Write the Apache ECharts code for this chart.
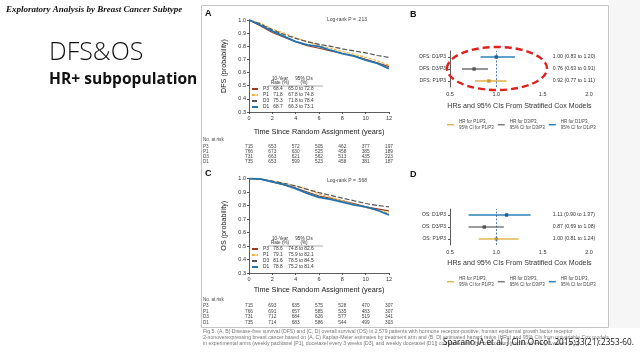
<!DOCTYPE html>
<html><head><meta charset="utf-8">
<script src="https://cdn.jsdelivr.net/npm/echarts@6/dist/echarts.min.js"></script>
<style>html,body{margin:0;padding:0;background:#fff}#c{width:640px;height:360px}</style>
</head><body><div id="c"></div>
<script>
// ---------- data ----------
const years = [0,1,2,3,4,5,6,7,8,9,10,11,12];
const arms = ['P3','P1','D3','D1'];
const dfsP3 = [1.0,0.955,0.905,0.87,0.835,0.805,0.785,0.765,0.745,0.728,0.700,0.675,0.645];
const dfsP1 = [1.0,0.975,0.930,0.90,0.865,0.835,0.810,0.785,0.760,0.740,0.715,0.690,0.655];
const dfsD3 = [1.0,0.970,0.925,0.89,0.860,0.835,0.815,0.800,0.780,0.765,0.750,0.730,0.715];
const dfsD1 = [1.0,0.960,0.915,0.875,0.835,0.810,0.800,0.770,0.745,0.725,0.695,0.670,0.630];
const osP3 = [1.0,0.995,0.975,0.955,0.930,0.900,0.870,0.855,0.835,0.815,0.790,0.775,0.760];
const osP1 = [1.0,0.997,0.980,0.965,0.945,0.920,0.885,0.860,0.835,0.810,0.785,0.765,0.745];
const osD3 = [1.0,0.997,0.980,0.965,0.945,0.920,0.895,0.875,0.855,0.835,0.815,0.800,0.790];
const osD1 = [1.0,0.995,0.975,0.955,0.925,0.890,0.860,0.845,0.825,0.805,0.790,0.765,0.730];
const riskTicks = [0,2,4,6,8,10,12];
const dfsRiskP3 = [715,653,572,505,462,377,197];
const dfsRiskP1 = [766,673,630,525,458,385,189];
const dfsRiskD3 = [731,663,621,562,513,435,223];
const dfsRiskD1 = [735,653,599,523,458,381,187];
const osRiskP3 = [715,693,635,575,528,470,307];
const osRiskP1 = [766,691,657,585,535,483,307];
const osRiskD3 = [731,712,684,626,577,519,341];
const osRiskD1 = [735,714,683,586,544,499,303];
const dfsRate = ['68.4','71.8','75.3','68.7'];
const dfsCI = ['65.0 to 72.8','67.8 to 74.8','71.8 to 78.4','66.3 to 73.1'];
const osRate = ['78.6','79.1','81.6','78.8'];
const osCI = ['74.8 to 82.6','75.9 to 82.1','78.5 to 84.5','75.2 to 81.4'];
const forestCats = ['P1/P3','D3/P3','D1/P3'];
const forestNames = ['HR for P1/P3,\n95% CI for P1/P3','HR for D3/P3,\n95% CI for D3/P3','HR for D1/P3,\n95% CI for D1/P3'];
const dfsHR = [0.92,0.76,1.00];
const dfsLo = [0.77,0.63,0.83];
const dfsHi = [1.11,0.91,1.20];
const dfsHRText = ['0.92 (0.77 to 1.11)','0.76 (0.63 to 0.91)','1.00 (0.83 to 1.20)'];
const osHR = [1.00,0.87,1.11];
const osLo = [0.81,0.70,0.70];
const osHi = [1.24,1.08,1.37];
const osHRText = ['1.00 (0.81 to 1.24)','0.87 (0.69 to 1.08)','1.11 (0.90 to 1.37)'];

// ---------- styles ----------
const NARROW = "'Liberation Sans',Arial,sans-serif";
const SANS = "'Liberation Sans',Arial,sans-serif";
const armColor = {P3:'#9c3b25',P1:'#f0b23a',D3:'#555555',D1:'#2374ad'};
const armDash = {P3:'solid',P1:[3,1.5],D3:[5,2],D1:'solid'};
const armWidth = {P3:1.2,P1:1.2,D3:1.2,D1:1.8};
const forestColor = ['#e3b655','#7a7a7a','#2a82b8'];
const forestMark = ['#c99a35','#555555','#1d5f95'];

const chart = echarts.init(document.getElementById('c'), null, {renderer:'canvas'});

const grids = [
  {left:249, top:20, width:140, height:92},
  {left:249, top:178.5, width:140, height:94.5},
  {left:450, top:51, width:139, height:36},
  {left:450, top:209, width:139, height:36}
];

const axisLineStyle = {color:'#333', width:0.8};
const xAxes = [], yAxes = [], series = [];

function kmAxes(gi, yName, riskRows, riskOffsets, xGap){
  xAxes.push({gridIndex:gi, type:'value', min:0, max:12, interval:2,
    axisLine:{lineStyle:axisLineStyle}, axisTick:{length:2, lineStyle:axisLineStyle},
    splitLine:{show:false},
    axisLabel:{fontSize:5.5, color:'#333', margin:3, fontFamily:SANS},
    name:'Time Since Random Assignment (years)', nameLocation:'middle', nameGap:xGap,
    nameTextStyle:{fontSize:7.3, color:'#222', fontFamily:NARROW}});
  riskRows.forEach((row, k) => {
    xAxes.push({gridIndex:gi, type:'value', min:0, max:12, interval:2, position:'bottom',
      offset:riskOffsets[k], axisLine:{show:false}, axisTick:{show:false}, splitLine:{show:false},
      axisLabel:{fontSize:4.8, color:'#444', margin:0, verticalAlign:'middle', fontFamily:SANS,
        formatter: v => { const i = riskTicks.indexOf(v); return i >= 0 ? String(row[i]) : ''; }}});
  });
  yAxes.push({gridIndex:gi, type:'value', min:0.3, max:1.0, interval:0.1,
    axisLine:{show:true, lineStyle:axisLineStyle}, axisTick:{show:true, length:2, lineStyle:axisLineStyle},
    splitLine:{show:false},
    axisLabel:{fontSize:5.5, color:'#333', margin:3, formatter: v => v.toFixed(1), fontFamily:SANS},
    name:yName, nameLocation:'middle', nameGap:21,
    nameTextStyle:{fontSize:7.2, color:'#222', fontFamily:NARROW}});
}
kmAxes(0, 'DFS (probability)', [dfsRiskP3,dfsRiskP1,dfsRiskD3,dfsRiskD1], [34.5,39.5,45,50], 16);
kmAxes(1, 'OS (probability)', [osRiskP3,osRiskP1,osRiskD3,osRiskD1], [33,38.5,44,49.5], 13.5);
const kmData = [[dfsP3,dfsP1,dfsD3,dfsD1],[osP3,osP1,osD3,osD1]];
kmData.forEach((set, gi) => {
  set.forEach((arr, k) => {
    const a = arms[k];
    series.push({type:'line', name:a, xAxisIndex: gi*5, yAxisIndex: gi,
      data: years.map((t,i) => [t, arr[i]]), showSymbol:false, symbol:'none',
      lineStyle:{color:armColor[a], width:armWidth[a], type:armDash[a]},
      itemStyle:{color:armColor[a]}, z: a==='D1'?4:3, silent:true});
  });
});

function forestAxes(gi, prefix, gap){
  xAxes.push({gridIndex:gi, type:'value', min:0.5, max:2.0, interval:0.5,
    axisLine:{lineStyle:axisLineStyle}, axisTick:{length:2, lineStyle:axisLineStyle},
    splitLine:{show:false},
    axisLabel:{fontSize:5.5, color:'#333', margin:4, formatter: v => v.toFixed(1), fontFamily:SANS},
    name:'HRs and 95% CIs From Stratified Cox Models', nameLocation:'middle', nameGap:gap,
    nameTextStyle:{fontSize:7.1, color:'#333', fontFamily:NARROW}});
  yAxes.push({gridIndex:gi, type:'category', data:forestCats,
    axisLine:{show:true, lineStyle:axisLineStyle}, axisTick:{show:true, length:2, alignWithLabel:true, lineStyle:axisLineStyle},
    axisLabel:{fontSize:5, color:'#333', margin:4, formatter: v => prefix + v, fontFamily:SANS}});
}
const bX = xAxes.length; forestAxes(2, 'DFS: ', 15.5);
const dX = xAxes.length; forestAxes(3, 'OS: ', 14.5);

function forest(xi, yi, hr, lo, hi, txt){
  series.push({type:'line', xAxisIndex:xi, yAxisIndex:yi, data:[], silent:true,
    markLine:{silent:true, symbol:'none', label:{show:false},
      lineStyle:{color:'#2a5fa0', type:[2,1.5], width:0.8}, data:[{xAxis:1}]}});
  forestCats.forEach((c, k) => {
    const col = forestColor[k];
    series.push({type:'custom', name:forestNames[k], xAxisIndex:xi, yAxisIndex:yi,
      itemStyle:{color:col}, encode:{x:[0,1,2], y:3},
      data:[[hr[k], lo[k], hi[k], k]],
      renderItem:(params, api) => {
        const y = api.value(3);
        const c0 = api.coord([api.value(0), y]);
        const a = api.coord([api.value(1), y]);
        const b = api.coord([api.value(2), y]);
        const t = api.coord([1.61, y]);
        return {type:'group', children:[
          {type:'line', shape:{x1:a[0], y1:a[1], x2:b[0], y2:b[1]}, style:{stroke:col, lineWidth:1.6}},
          {type:'rect', shape:{x:c0[0]-1.7, y:c0[1]-1.7, width:3.4, height:3.4}, style:{fill:forestMark[k]}},
          {type:'text', x:t[0], y:t[1], style:{text:txt[k], fill:'#333', fontSize:5.2, fontFamily:SANS, verticalAlign:'middle', align:'left'}}
        ]};
      }});
  });
}
forest(bX, 2, dfsHR, dfsLo, dfsHi, dfsHRText);
forest(dX, 3, osHR, osLo, osHi, osHRText);

function kmLegend(top, rate, ci){
  return {data:arms, orient:'vertical', left:251, top:top, itemWidth:6, itemHeight:4,
    itemGap:1, padding:0, selectedMode:false, itemStyle:{opacity:0},
    formatter: n => { const i = arms.indexOf(n); return '{n|' + n + '}{r|' + rate[i] + '}{c|' + ci[i] + '}'; },
    textStyle:{fontSize:4.8, color:'#333', fontFamily:SANS, lineHeight:5,
      rich:{n:{width:7, fontSize:4.8, lineHeight:5, fontFamily:SANS}, r:{width:16, align:'center', fontSize:4.8, lineHeight:5, fontFamily:SANS}, c:{width:30, align:'center', fontSize:4.8, lineHeight:5, fontFamily:SANS}}}};
}
function forestLegend(top){
  return {data:forestNames, orient:'horizontal', left:447, top:top, itemWidth:7, itemHeight:1.5,
    icon:'rect', itemGap:4, padding:0, selectedMode:false,
    textStyle:{fontSize:4.5, color:'#444', fontFamily:SANS, lineHeight:5.2, width:32, overflow:'none'}};
}

const T = (x, y, text, style) => ({type:'text', x, y, silent:true,
  style:Object.assign({text, fill:'#222', fontFamily:SANS, fontSize:5, verticalAlign:'middle', align:'left'}, style||{})});

const graphic = [
  {type:'rect', shape:{x:609, y:0, width:31, height:328}, style:{fill:'#f6f6f6'}, silent:true},
  {type:'rect', shape:{x:201.5, y:5.5, width:407, height:322}, style:{fill:null, stroke:'#c4c4c4', lineWidth:1}, silent:true},
  T(6, 10, 'Exploratory Analysis by Breast Cancer Subtype', {fontFamily:"'Liberation Serif','Times New Roman',serif", fontWeight:'bold', fontStyle:'italic', fontSize:9, fill:'#111'}),
  T(49, 53, 'DFS&OS', {fontFamily:"'Open Sans','Noto Sans',sans-serif", fontWeight:300, fontSize:25, fill:'#111'}),
  T(49, 80, 'HR+ subpopulation', {fontFamily:"'Open Sans','Noto Sans',sans-serif", fontWeight:'bold', fontSize:15.6, fill:'#111'}),
  T(205, 14, 'A', {fontWeight:'bold', fontSize:9, fill:'#111'}),
  T(205, 174, 'C', {fontWeight:'bold', fontSize:9, fill:'#111'}),
  T(410, 15, 'B', {fontWeight:'bold', fontSize:9, fill:'#111'}),
  T(410, 175, 'D', {fontWeight:'bold', fontSize:9, fill:'#111'}),
  T(347, 20, 'Log-rank P = .213', {fontSize:5, fill:'#444', align:'center'}),
  T(347, 181, 'Log-rank P = .568', {fontSize:5, fill:'#444', align:'center'}),
  {type:'ellipse', shape:{cx:497, cy:68.5, rx:50, ry:21.5}, style:{fill:null, stroke:'#e0201c', lineWidth:2.4, lineDash:[7,4]}, silent:true, z:10}
];
[0, 160].forEach(dy => {
  graphic.push(T(280, 78.5+dy, '10-Year', {fontSize:4.6, fill:'#333', align:'center'}));
  graphic.push(T(280, 83+dy, 'Rate (%)', {fontSize:4.6, fill:'#333', align:'center'}));
  graphic.push(T(304, 78.5+dy, '95% CIs', {fontSize:4.6, fill:'#333', align:'center'}));
  graphic.push(T(304, 83+dy, '(%)', {fontSize:4.6, fill:'#333', align:'center'}));
  graphic.push({type:'line', shape:{x1:268, y1:86+dy, x2:323, y2:86+dy}, style:{stroke:'#555', lineWidth:0.5}, silent:true});
});
[[140, [146.5,151.5,157,162]], [300, [306,311.5,317,322.5]]].forEach(([hy, rows]) => {
  graphic.push(T(203, hy, 'No. at risk', {fontSize:4.6, fill:'#444'}));
  arms.forEach((a, i) => graphic.push(T(203, rows[i], a, {fontSize:4.6, fill:'#444'})));
});
const caption = [
  'Fig 5. (A, B) Disease-free survival (DFS) and (C, D) overall survival (OS) in 2,579 patients with hormone receptor-positive, human epidermal growth factor receptor',
  '2-nonoverexpressing breast cancer based on (A, C) Kaplan-Meier estimates by treatment arm and (B, D) estimated hazard ratios (HRs) and 95% CIs from univariable Cox models',
  'in experimental arms (weekly paclitaxel [P1], docetaxel every 3 weeks [D3], and weekly docetaxel [D1]) compared with the control arm (paclitaxel every 3 weeks [P3]).'
];
caption.forEach((l, i) => graphic.push(T(203, 332 + i*5.6, l, {fontSize:5.15, fill:'#777'})));
graphic.push(T(443, 343, 'Sparano JA et al. J Clin Oncol. 2015;33(21):2353-60.', {fontFamily:"'Open Sans','Noto Sans',sans-serif", fontSize:8.2, fill:'#111'}));

chart.setOption({
  backgroundColor:'#ffffff',
  animation:false,
  grid: grids,
  xAxis: xAxes,
  yAxis: yAxes,
  legend: [kmLegend(86.5, dfsRate, dfsCI), kmLegend(246.5, osRate, osCI), forestLegend(119.5), forestLegend(276.5)],
  series: series,
  graphic: graphic
});
</script>
</body></html>
